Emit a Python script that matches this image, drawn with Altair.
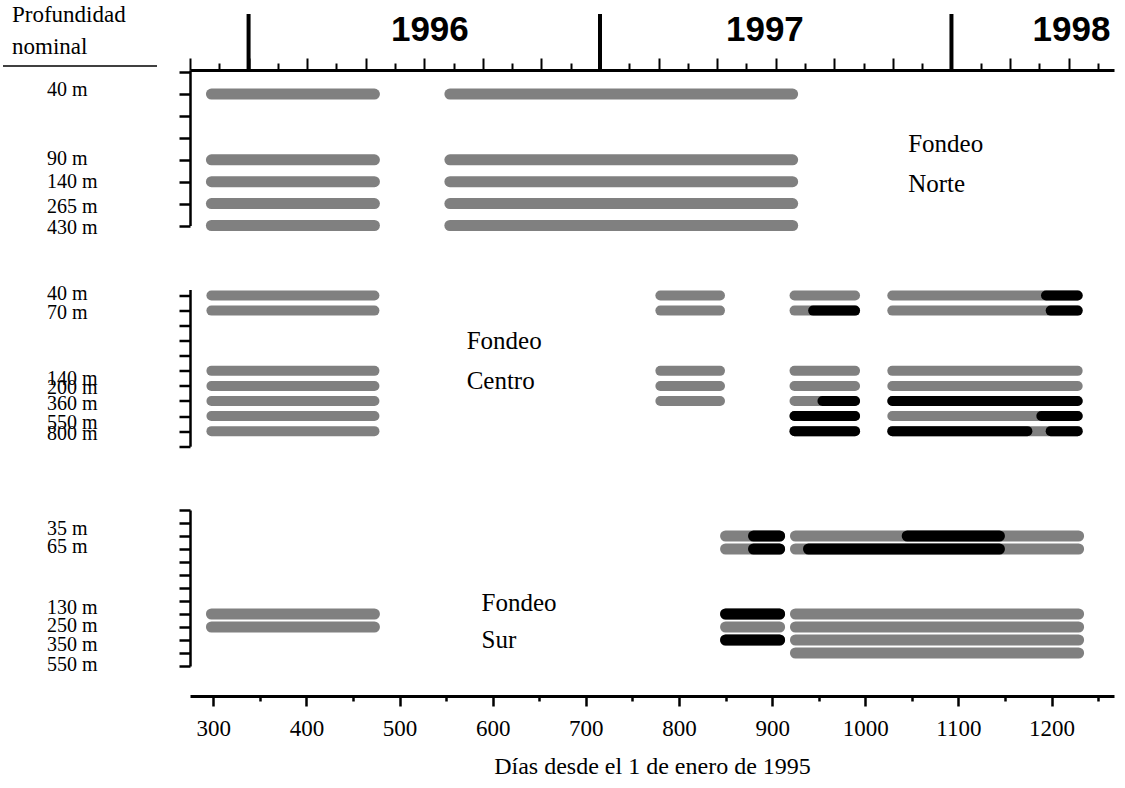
import altair as alt
import pandas as pd

# ---------------- data ----------------
DAY_DOMAIN = [275, 1267]        # days since 1 Jan 1995 (bottom axis)
MONTH_DOMAIN = [0, 31.55]       # months since 1 Nov 1995 (top axis)

# Fondeo Norte
norte_depths = ["40 m", "90 m", "140 m", "265 m", "430 m"]
norte_rows = [1, 4, 5, 6, 7]
norte_label_rows = [0.82, 3.97, 5.02, 6.14, 7.1]
norte_segments = [
    ("40 m", 298, 473), ("40 m", 554, 922),
    ("90 m", 298, 473), ("90 m", 554, 922),
    ("140 m", 298, 473), ("140 m", 554, 922),
    ("265 m", 298, 473), ("265 m", 554, 922),
    ("430 m", 298, 473), ("430 m", 554, 922),
]
norte_black = []
norte_names = [("Fondeo", 1046, 3.29), ("Norte", 1046, 5.11)]

# Fondeo Centro
centro_depths = ["40 m", "70 m", "140 m", "200 m", "360 m", "550 m", "800 m"]
centro_rows = [0, 1, 5, 6, 7, 8, 9]
centro_label_rows = [-0.13, 1.16, 5.51, 6.14, 7.17, 8.46, 9.16]
centro_segments = [
    ("40 m", 298, 473), ("40 m", 780, 844), ("40 m", 924, 989), ("40 m", 1029, 1228),
    ("70 m", 298, 473), ("70 m", 780, 844), ("70 m", 924, 989), ("70 m", 1029, 1228),
    ("140 m", 298, 473), ("140 m", 780, 844), ("140 m", 924, 989), ("140 m", 1029, 1228),
    ("200 m", 298, 473), ("200 m", 780, 844), ("200 m", 924, 989), ("200 m", 1029, 1228),
    ("360 m", 298, 473), ("360 m", 780, 844), ("360 m", 924, 989), ("360 m", 1029, 1228),
    ("550 m", 298, 473), ("550 m", 924, 989), ("550 m", 1029, 1228),
    ("800 m", 298, 473), ("800 m", 924, 989), ("800 m", 1029, 1228),
]
centro_black = [
    ("40 m", 1194, 1228),
    ("70 m", 944, 989), ("70 m", 1199, 1228),
    ("360 m", 954, 989), ("360 m", 1029, 1228),
    ("550 m", 924, 989), ("550 m", 1189, 1228),
    ("800 m", 924, 989), ("800 m", 1029, 1174), ("800 m", 1199, 1228),
]
centro_names = [("Fondeo", 572, 2.99), ("Centro", 572, 5.64)]

# Fondeo Sur
sur_depths = ["35 m", "65 m", "130 m", "250 m", "350 m", "550 m"]
sur_rows = [2, 3, 8, 9, 10, 11]
sur_label_rows = [1.46, 2.88, 7.5, 8.92, 10.38, 11.92]
sur_segments = [
    ("35 m", 850, 908), ("35 m", 925, 1229),
    ("65 m", 850, 908), ("65 m", 925, 1229),
    ("130 m", 298, 473), ("130 m", 850, 908), ("130 m", 925, 1229),
    ("250 m", 298, 473), ("250 m", 850, 908), ("250 m", 925, 1229),
    ("350 m", 850, 908), ("350 m", 925, 1229),
    ("550 m", 925, 1229),
]
sur_black = [
    ("35 m", 880, 908), ("35 m", 1045, 1144),
    ("65 m", 880, 908), ("65 m", 939, 1144),
    ("130 m", 850, 908),
    ("350 m", 850, 908),
]
sur_names = [("Fondeo", 588, 7.15), ("Sur", 588, 10.0)]

# top axis: years
years = ["1996", "1997", "1998"]
year_start_month = [2, 14, 26]
year_label_month = [8.19, 19.63, 30.1]

# bottom axis ticks
day_ticks = list(range(300, 1251, 50))

# ---------------- styles ----------------
GRAY = "#808080"
SERIF = "Liberation Serif"
SANS = "Liberation Sans"
PLOT_W = 924


def seg_frame(segments, black, depths, rows):
    rowmap = dict(zip(depths, rows))
    recs = [dict(prof=d, fila=rowmap[d], ini=s, fin=e, tipo="gris") for d, s, e in segments]
    recs += [dict(prof=d, fila=rowmap[d], ini=s, fin=e, tipo="negro") for d, s, e in black]
    return pd.DataFrame(recs)


def panel(depths, rows, label_rows, segments, black, names, ydomain, nticks,
          height, sw, x_axis):
    yscale = alt.Scale(domain=ydomain, reverse=True, nice=False, zero=False)
    xscale = alt.Scale(domain=DAY_DOMAIN, nice=False, zero=False)
    yaxis = alt.Axis(values=list(range(nticks)), labels=False, title=None, grid=False,
                     orient="left", domainColor="black", domainWidth=2.5,
                     tickColor="black", tickWidth=2.5, tickSize=11)
    df = seg_frame(segments, black, depths, rows)
    bars = alt.Chart(df).mark_rule(strokeCap="round", strokeWidth=sw).encode(
        x=alt.X("ini:Q", scale=xscale, axis=x_axis),
        x2="fin:Q",
        y=alt.Y("fila:Q", scale=yscale, axis=yaxis),
        color=alt.Color("tipo:N", scale=alt.Scale(domain=["gris", "negro"],
                                                  range=[GRAY, "black"]), legend=None),
    )
    lab = pd.DataFrame({"txt": depths, "pos": label_rows})
    labels = alt.Chart(lab).mark_text(align="left", baseline="middle", font=SERIF,
                                      fontSize=20, color="black").encode(
        x=alt.value(-143),
        y=alt.Y("pos:Q", scale=yscale, axis=yaxis),
        text="txt:N",
    )
    nm = pd.DataFrame(names, columns=["txt", "dia", "pos"])
    name_txt = alt.Chart(nm).mark_text(align="left", baseline="middle", font=SERIF,
                                       fontSize=25, color="black").encode(
        x=alt.X("dia:Q", scale=xscale, axis=x_axis),
        y=alt.Y("pos:Q", scale=yscale, axis=yaxis),
        text="txt:N",
    )
    return alt.layer(bars, labels, name_txt).properties(width=PLOT_W, height=height)


# ---------------- panels ----------------
norte_core = panel(norte_depths, norte_rows, norte_label_rows, norte_segments, norte_black,
                   norte_names, [-0.1, 7], 8, 155.5, 11, None)

header = alt.Chart(pd.DataFrame({"t": ["Profundidad\nnominal"]})).mark_text(
    align="left", baseline="alphabetic", font=SERIF, fontSize=23, lineBreak="\n",
    lineHeight=32, color="black").encode(x=alt.value(-178), y=alt.value(-48), text="t:N")
underline = alt.Chart(pd.DataFrame({"a": [0]})).mark_rule(
    color="black", strokeWidth=1.5).encode(
    x=alt.value(-187), x2=alt.value(-33), y=alt.value(-4))

month_scale = alt.Scale(domain=MONTH_DOMAIN, nice=False, zero=False)
month_axis = alt.Axis(orient="top", values=list(range(0, 32)), labels=False, title=None,
                      grid=False, domainColor="black", domainWidth=3, tickColor="black",
                      tickWidth=2,
                      tickSize={"condition": {"test": "datum.value % 2 === 0", "value": 12},
                                "value": 7})
ydf = pd.DataFrame({"anio": years, "ini": year_start_month, "pos": year_label_month})
year_ticks = alt.Chart(ydf).mark_rule(color="black", strokeWidth=4).encode(
    x=alt.X("ini:Q", scale=month_scale, axis=month_axis),
    y=alt.value(-56), y2=alt.value(0))
year_text = alt.Chart(ydf).mark_text(font=SANS, fontWeight="bold", fontSize=35,
                                     baseline="alphabetic", align="center",
                                     color="black").encode(
    x=alt.X("pos:Q", scale=month_scale, axis=month_axis),
    y=alt.value(-29), text="anio:N")
top_layer = alt.layer(year_ticks, year_text)

norte = alt.layer(alt.layer(norte_core, header, underline), top_layer).resolve_scale(
    x="independent")

centro = panel(centro_depths, centro_rows, centro_label_rows, centro_segments, centro_black,
               centro_names, [-0.4, 10], 11, 156.7, 10, None)

bottom_axis = alt.Axis(
    orient="bottom", offset=30, values=day_ticks, format="d",
    labelExpr="datum.value % 100 === 0 ? datum.label : ''",
    tickSize={"condition": {"test": "datum.value % 100 === 0", "value": 10}, "value": 5},
    tickWidth=2.5, tickColor="black", domainColor="black", domainWidth=3,
    labelFont=SERIF, labelFontSize=23, labelColor="black", labelPadding=11,
    labelOverlap=False, labelFlush=False, grid=False,
    title="Días desde el 1 de enero de 1995", titleFont=SERIF, titleFontSize=24,
    titleFontWeight="normal", titleColor="black", titlePadding=14)

sur = panel(sur_depths, sur_rows, sur_label_rows, sur_segments, sur_black,
            sur_names, [0, 12], 13, 156, 11, bottom_axis)

chart = alt.vconcat(norte, centro, sur, spacing=63.5, bounds="flush").properties(
    padding={"left": 2, "top": 4, "right": 8, "bottom": 10},
    background="white",
).configure_view(stroke=None)

chart.save("out.html", embed_options={"renderer": "svg", "actions": False})
